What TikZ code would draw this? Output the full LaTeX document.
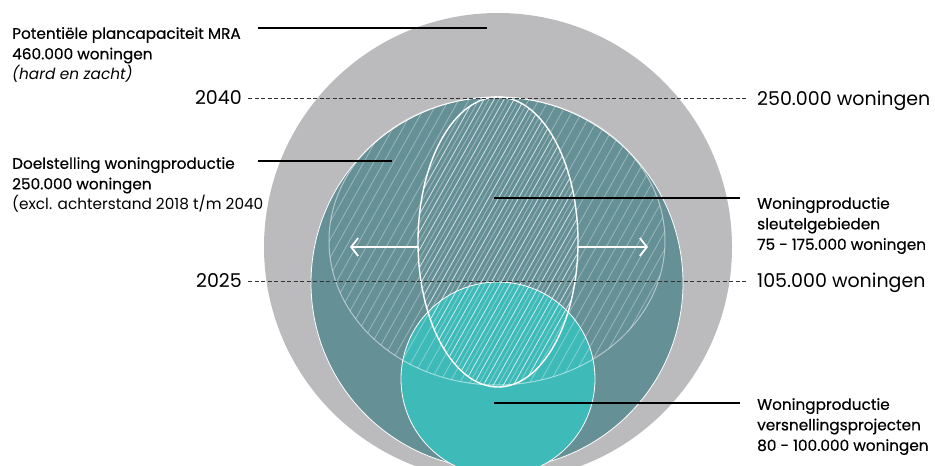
\documentclass[tikz,border=0pt]{standalone}
\usepackage{fontspec}
\setmainfont{Poppins}
\newfontfamily\medfont{Poppins}[FakeBold=0.5]
\usetikzlibrary{arrows.meta,positioning}
\definecolor{ringgray}{RGB}{187,186,188}
\definecolor{darkteal}{RGB}{101,144,150}
\definecolor{brightteal}{RGB}{62,186,184}
\definecolor{dashgray}{RGB}{51,51,51}

\begin{document}
\begin{tikzpicture}[x=1pt,y=-1pt,
    leader/.style={line width=1.6pt, black},
    yearline/.style={line width=0.8pt, dashgray, dash pattern=on 4pt off 2.5pt},
    smalltext/.style={font=\fontsize{15.3}{20.5}\selectfont, align=left, anchor=north west, inner sep=0pt},
    bigtext/.style={font=\fontsize{19}{22}\selectfont, inner sep=0pt},
    hatch/.style={white, line width=0.8pt},
    spread/.style={white, line width=1.8pt, -{Straight Barb[length=7pt,width=18pt]}}]
    \useasboundingbox (0,0) rectangle (935,466);
    \begin{scope}
    \clip (0,0) rectangle (935,466);
    % outer circle: plancapaciteit
    \fill[ringgray] (498,247) circle [radius=234];
    % doelstelling 2040
    \filldraw[fill=darkteal, draw=white, line width=0.8pt] (497,283) circle [radius=186];
    % versnellingsprojecten
    \filldraw[fill=brightteal, draw=white, line width=0.8pt] (498,379) circle [radius=97];
    % hatched range
    \begin{scope}
      \clip (497,241) ellipse [x radius=168, y radius=144];
      \foreach \k in {100,110,...,700}
        \draw[hatch, opacity=0.35] (\k,400) -- ++(180,-320);
    \end{scope}
    \draw[white, opacity=0.5, line width=1pt] (497,241) ellipse [x radius=168, y radius=144];
    % sleutelgebieden
    \begin{scope}
      \clip (498,242) ellipse [x radius=80, y radius=145];
      \foreach \k in {105,115,...,705}
        \draw[hatch, opacity=0.75] (\k,400) -- ++(180,-320);
    \end{scope}
    \draw[white, line width=1.4pt] (498,242) ellipse [x radius=80, y radius=145];
    \end{scope}

    % arrows
    \coordinate (sleutelW) at (418,247);
    \coordinate (sleutelE) at (578,247);
    \draw[spread] (sleutelW) -- ++(-68,0);
    \draw[spread] (sleutelE) -- ++(70,0);

    % years
    \node[bigtext, anchor=east] (y2040) at (242,98) {2040};
    \node[bigtext, anchor=west] (n2040) at (757,101) {250.000 woningen};
    \node[bigtext, anchor=east] (y2025) at (242,281) {2025};
    \node[bigtext, anchor=west] (n2025) at (757,283) {105.000 woningen};
    \draw[yearline] ([xshift=6pt]y2040.east) -- ([xshift=-9pt]y2040.east -| n2040.west);
    \draw[yearline] ([xshift=6pt]y2025.east) -- ([xshift=-9pt]y2025.east -| n2025.west);

    % labels
    \node[smalltext] (plan) at (12,27) {\medfont Potentiële plancapaciteit MRA\\\medfont 460.000 woningen\\\textit{(hard en zacht)}};
    \node[smalltext] (doel) at (12,157) {\medfont Doelstelling woningproductie\\\medfont 250.000 woningen\\(excl. achterstand 2018 t/m 2040};
    \node[smalltext] (sleutel) at (757,197) {\medfont Woningproductie\\\medfont sleutelgebieden\\\medfont 75 - 175.000 woningen};
    \node[smalltext] (versn) at (757,398) {\medfont Woningproductie\\\medfont versnellingsprojecten\\\medfont 80 - 100.000 woningen};

    % leaders
    \coordinate (pPlan) at (487,28);
    \coordinate (pDoel) at (392,161);
    \coordinate (pSleutel) at (494,198);
    \coordinate (pVersn) at (494,403);
    \draw[leader] (pPlan -| 258,0) -- (pPlan);
    \draw[leader] (pDoel -| 258,0) -- (pDoel);
    \draw[leader] (pSleutel) -- ([xshift=-17pt]pSleutel -| sleutel.west);
    \draw[leader] (pVersn) -- ([xshift=-17pt]pVersn -| versn.west);
\end{tikzpicture}
\end{document}
